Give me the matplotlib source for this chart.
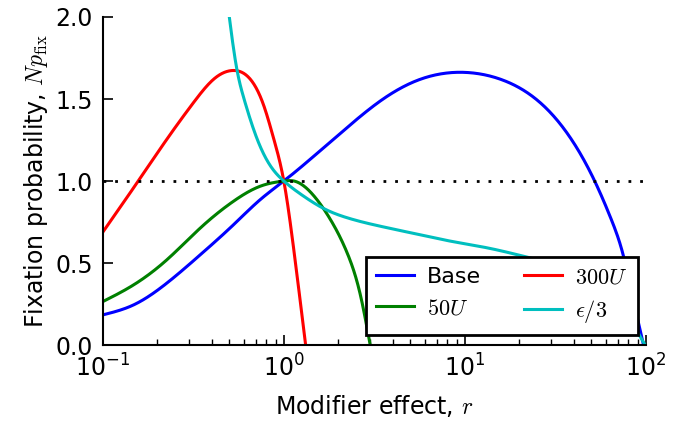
import numpy as np
import matplotlib
matplotlib.use("Agg")
from matplotlib import pyplot as plt

plt.rcParams['mathtext.fontset'] = 'cm'
plt.rcParams['font.family'] = ['DejaVu Sans']

# values
base_r = [0.1, 0.148, 0.226, 0.346, 0.529, 0.743, 1.0, 1.47, 2.24, 3.43, 5.25,
          8.03, 10.8, 16.5, 25.3, 38.7, 52.1, 64.4, 74.8, 85.0, 97.0]
base_y = [0.184, 0.245, 0.378, 0.551, 0.735, 0.888, 1.0, 1.153, 1.327, 1.49, 1.606,
          1.659, 1.66, 1.612, 1.49, 1.255, 1.0, 0.765, 0.551, 0.28, 0.0]

u300_r = [0.1, 0.157, 0.226, 0.318, 0.409, 0.529, 0.654, 0.775, 0.881, 1.0, 1.16, 1.32]
u300_y = [0.688, 1.0, 1.255, 1.48, 1.62, 1.674, 1.62, 1.46, 1.255, 1.0, 0.5, 0.0]

u50_r = [0.1, 0.148, 0.226, 0.346, 0.529, 0.743, 1.0, 1.14, 1.47, 1.81, 2.24, 2.66, 3.0]
u50_y = [0.265, 0.367, 0.52, 0.714, 0.878, 0.969, 1.0, 1.0, 0.908, 0.765, 0.561, 0.296, 0.0]

eps_r = [0.5, 0.518, 0.552, 0.601, 0.713, 0.844, 1.0, 1.24, 1.70, 2.24, 3.43, 5.25,
         8.38, 13.4, 20.5, 30.0, 45.0, 60.0, 75.0, 90.0, 99.0]
eps_y = [2.0, 1.87, 1.674, 1.506, 1.255, 1.092, 1.0, 0.92, 0.827, 0.776, 0.724, 0.68,
         0.633, 0.592, 0.545, 0.50, 0.44, 0.36, 0.25, 0.08, 0.0]


def smooth(r, y, n=500):
    # natural cubic spline through the read points, in log r
    x = np.log10(r)
    y = np.asarray(y, float)
    k = len(x)
    h = np.diff(x)
    A = np.zeros((k, k))
    b = np.zeros(k)
    A[0, 0] = A[-1, -1] = 1.0
    for i in range(1, k - 1):
        A[i, i - 1] = h[i - 1]
        A[i, i] = 2 * (h[i - 1] + h[i])
        A[i, i + 1] = h[i]
        b[i] = 6 * ((y[i + 1] - y[i]) / h[i] - (y[i] - y[i - 1]) / h[i - 1])
    M = np.linalg.solve(A, b)
    xs = np.linspace(x[0], x[-1], n)
    j = np.clip(np.searchsorted(x, xs) - 1, 0, k - 2)
    t1 = x[j + 1] - xs
    t0 = xs - x[j]
    hj = h[j]
    ys = (M[j] * t1**3 + M[j + 1] * t0**3) / (6 * hj) \
        + (y[j] / hj - M[j] * hj / 6) * t1 + (y[j + 1] / hj - M[j + 1] * hj / 6) * t0
    return 10**xs, ys


fig = plt.figure(figsize=(6.85, 4.25), dpi=100)
ax = fig.add_axes([0.150, 0.188, 0.793, 0.772])

lw = 2.2
l_base, = ax.plot(*smooth(base_r, base_y), color='blue', lw=lw, label='Base')
l_300, = ax.plot(*smooth(u300_r, u300_y), color='red', lw=lw, label='$300U$')
l_50, = ax.plot(*smooth(u50_r, u50_y), color='green', lw=lw, label='$50U$')
l_eps, = ax.plot(*smooth(eps_r, eps_y), color='c', lw=lw, label=r'$\epsilon/3$')
ax.axhline(1.0, color='black', lw=2, linestyle=(0, (1, 3.2)))

ax.set_xscale('log')
ax.set_xlim(0.1, 100)
ax.set_ylim(0, 2.0)
ax.set_yticks([0.0, 0.5, 1.0, 1.5, 2.0])

for s in ['top', 'right']:
    ax.spines[s].set_visible(False)
for s in ['left', 'bottom']:
    ax.spines[s].set_linewidth(1.5)
ax.xaxis.set_ticks_position('bottom')
ax.yaxis.set_ticks_position('left')
ax.tick_params(which='major', direction='in', length=7, width=1.2, labelsize=17, pad=7)
ax.tick_params(which='minor', direction='in', length=4, width=1.0)

ax.set_xlabel('Modifier effect, $r$', fontsize=17, labelpad=8)
ax.set_ylabel(r'Fixation probability, $Np_{\rm fix}$', fontsize=17, labelpad=4)

# row order in the reference: Base, 300U / 50U, eps/3
leg = ax.legend([l_base, l_50, l_300, l_eps],
                ['Base', '$50U$', '$300U$', r'$\epsilon/3$'],
                ncol=2, loc='lower right', bbox_to_anchor=(0.985, 0.03),
                fontsize=16, frameon=True, fancybox=False, framealpha=1.0,
                handlelength=1.7, borderaxespad=0, columnspacing=1.95,
                handletextpad=0.6, borderpad=0.45, labelspacing=0.5)
leg.get_frame().set_edgecolor('black')
leg.get_frame().set_linewidth(2)

fig.savefig('out.png', dpi=100)
